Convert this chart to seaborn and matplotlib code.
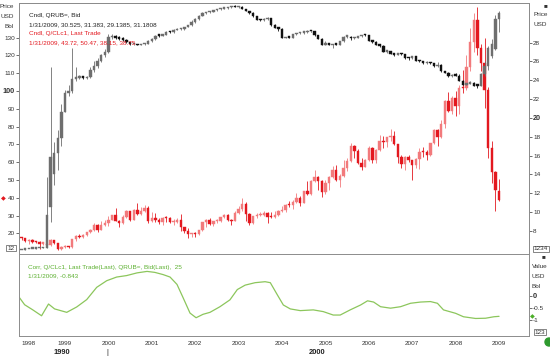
import numpy as np
import pandas as pd
import matplotlib
matplotlib.use('Agg')
import matplotlib.pyplot as plt
from matplotlib.patches import Ellipse
import seaborn as sns

# Monthly candles, Jan 1998 .. Jan 2009 (decimal years)
candle_dates = [1998 + i / 12 for i in range(133)]

# Q/CLc1, Last Trade (USD/Bbl)
oil_open = [
    17.64, 17.21, 15.44, 15.61, 15.39, 15.20, 14.18, 14.21, 13.34, 16.14, 14.42, 11.22,
    12.05, 12.75, 12.27, 16.76, 18.66, 17.90, 19.29, 20.53, 22.10, 24.51, 21.75, 24.59,
    25.60, 27.64, 30.43, 26.90, 25.74, 29.01, 32.50, 27.43, 33.12, 30.84, 32.70, 34.40,
    26.80, 28.66, 27.39, 26.29, 28.46, 28.37, 26.25, 26.35, 27.20, 23.43, 21.18, 19.44,
    19.84, 19.48, 21.74, 26.31, 27.29, 25.31, 26.86, 27.02, 28.98, 30.45, 27.22, 26.89,
    31.20, 33.51, 36.60, 31.04, 25.80, 29.56, 30.19, 30.54, 31.57, 29.20, 29.11, 30.41,
    32.52, 33.05, 36.16, 35.76, 37.38, 39.88, 37.05, 43.80, 42.12, 49.64, 51.76, 49.13,
    43.45, 48.20, 51.75, 55.40, 49.72, 51.97, 56.50, 60.57, 68.94, 66.24, 59.76, 57.32,
    61.04, 67.92, 61.41, 66.63, 71.88, 71.29, 73.93, 74.40, 70.26, 62.91, 58.73, 63.13,
    61.05, 58.14, 61.79, 65.87, 65.71, 64.01, 70.68, 78.21, 74.04, 81.66, 94.53, 88.71,
    95.98, 91.75, 101.84, 101.58, 113.46, 127.35, 140.00, 124.08, 115.46, 100.64, 67.81, 54.43,
    43.72]
oil_high = [
    18.00, 17.30, 16.90, 16.60, 15.90, 15.40, 14.90, 14.50, 16.80, 16.50, 14.70, 13.00,
    13.20, 13.00, 16.90, 18.90, 19.50, 19.40, 20.90, 22.30, 25.70, 25.30, 26.70, 27.20,
    30.00, 30.40, 34.40, 27.50, 30.10, 33.00, 32.70, 33.40, 37.20, 35.00, 36.10, 35.10,
    32.20, 31.60, 28.40, 28.90, 29.50, 29.20, 27.80, 28.70, 31.00, 23.60, 22.80, 20.40,
    21.00, 21.90, 26.40, 27.90, 28.40, 26.90, 28.00, 29.40, 31.00, 30.80, 28.00, 32.80,
    35.10, 39.99, 37.80, 31.50, 30.00, 31.60, 32.00, 32.40, 31.80, 31.70, 32.50, 33.10,
    35.30, 36.60, 38.40, 38.50, 42.45, 41.00, 43.90, 49.40, 50.10, 55.67, 52.20, 49.70,
    49.80, 52.30, 57.60, 58.28, 53.40, 60.95, 62.10, 70.85, 69.80, 67.10, 62.10, 61.90,
    69.20, 68.50, 67.20, 75.35, 74.70, 74.30, 78.40, 77.50, 70.30, 64.20, 63.20, 64.20,
    61.30, 62.30, 68.10, 68.40, 66.60, 70.70, 78.77, 78.70, 83.90, 94.74, 99.29, 97.00,
    100.09, 103.05, 111.80, 119.93, 135.09, 143.67, 147.27, 126.20, 130.00, 102.00, 72.10, 54.80,
    50.47]
oil_low = [
    16.10, 15.25, 13.91, 14.80, 14.60, 11.42, 13.20, 12.90, 13.10, 13.80, 10.70, 10.35,
    11.70, 11.60, 11.90, 15.90, 17.20, 17.40, 18.70, 19.90, 21.50, 21.00, 21.70, 24.00,
    24.00, 27.20, 26.80, 23.70, 25.30, 28.50, 26.80, 27.20, 30.50, 30.30, 32.20, 25.80,
    26.60, 26.50, 25.30, 24.90, 26.50, 25.60, 24.80, 25.70, 21.40, 20.10, 17.45, 17.80,
    17.90, 19.20, 21.30, 23.50, 24.80, 24.20, 25.80, 26.50, 28.70, 26.80, 24.80, 26.80,
    30.70, 32.80, 26.80, 24.80, 25.10, 28.80, 29.70, 30.00, 25.80, 28.60, 28.70, 29.90,
    31.90, 32.10, 34.80, 33.50, 37.20, 35.50, 36.90, 41.40, 41.60, 48.90, 44.30, 40.25,
    42.10, 44.20, 51.20, 49.30, 46.20, 51.40, 55.20, 60.10, 62.50, 59.20, 55.80, 57.20,
    60.80, 59.50, 59.40, 66.30, 68.20, 68.30, 72.10, 69.40, 59.50, 56.60, 55.40, 60.20,
    49.90, 56.70, 56.20, 62.70, 61.10, 63.70, 70.30, 69.10, 73.70, 79.00, 88.00, 87.00,
    86.11, 86.80, 98.60, 100.30, 111.30, 122.10, 120.40, 111.34, 90.51, 62.50, 48.50, 32.40,
    38.15]
oil_close = [
    17.21, 15.44, 15.61, 15.39, 15.20, 14.18, 14.21, 13.34, 16.14, 14.42, 11.22, 12.05,
    12.75, 12.27, 16.76, 18.66, 17.90, 19.29, 20.53, 22.10, 24.51, 21.75, 24.59, 25.60,
    27.64, 30.43, 26.90, 25.74, 29.01, 32.50, 27.43, 33.12, 30.84, 32.70, 34.40, 26.80,
    28.66, 27.39, 26.29, 28.46, 28.37, 26.25, 26.35, 27.20, 23.43, 21.18, 19.44, 19.84,
    19.48, 21.74, 26.31, 27.29, 25.31, 26.86, 27.02, 28.98, 30.45, 27.22, 26.89, 31.20,
    33.51, 36.60, 31.04, 25.80, 29.56, 30.19, 30.54, 31.57, 29.20, 29.11, 30.41, 32.52,
    33.05, 36.16, 35.76, 37.38, 39.88, 37.05, 43.80, 42.12, 49.64, 51.76, 49.13, 43.45,
    48.20, 51.75, 55.40, 49.72, 51.97, 56.50, 60.57, 68.94, 66.24, 59.76, 57.32, 61.04,
    67.92, 61.41, 66.63, 71.88, 71.29, 73.93, 74.40, 70.26, 62.91, 58.73, 63.13, 61.05,
    58.14, 61.79, 65.87, 65.71, 64.01, 70.68, 78.21, 74.04, 81.66, 94.53, 88.71, 95.98,
    91.75, 101.84, 101.58, 113.46, 127.35, 140.00, 124.08, 115.46, 100.64, 67.81, 54.43, 44.60,
    38.75]

# QRUB=, Bid (RUB per USD)
rub_open = [
    5.96, 6.03, 6.07, 6.11, 6.13, 6.16, 6.20, 6.24, 10.50, 14.00, 16.30, 17.90,
    20.65, 22.60, 22.86, 24.18, 24.22, 24.44, 24.22, 24.30, 25.09, 25.55, 26.05, 26.67,
    27.00, 28.55, 28.66, 28.46, 28.40, 28.30, 28.07, 27.80, 27.80, 27.75, 27.85, 27.85,
    28.16, 28.37, 28.73, 28.72, 28.82, 29.10, 29.07, 29.31, 29.39, 29.39, 29.65, 29.84,
    30.14, 30.48, 30.82, 31.11, 31.20, 31.29, 31.45, 31.52, 31.60, 31.64, 31.75, 31.86,
    31.78, 31.82, 31.59, 31.39, 31.13, 30.77, 30.44, 30.35, 30.48, 30.61, 29.90, 29.58,
    29.45, 28.49, 28.52, 28.51, 28.86, 28.97, 29.03, 29.08, 29.22, 29.21, 28.77, 28.41,
    27.75, 27.93, 27.73, 27.84, 27.79, 28.13, 28.63, 28.63, 28.47, 28.50, 28.68, 28.83,
    28.78, 28.16, 28.08, 27.76, 27.67, 27.02, 27.08, 26.80, 26.73, 26.78, 26.77, 26.39,
    26.33, 26.53, 26.03, 26.01, 25.78, 25.89, 25.82, 25.49, 25.66, 24.93, 24.80, 24.41,
    24.55, 24.48, 23.97, 23.52, 23.62, 23.71, 23.42, 23.40, 24.62, 25.50, 26.60, 27.30,
    30.525]
rub_high = [
    6.03, 6.08, 6.11, 6.13, 6.17, 6.20, 6.25, 13.70, 25.40, 17.40, 18.70, 21.50,
    23.00, 23.50, 27.40, 25.40, 24.60, 24.50, 24.50, 25.40, 26.00, 26.40, 26.80, 27.30,
    28.90, 28.90, 28.80, 28.70, 28.60, 28.40, 28.10, 27.90, 27.85, 27.90, 27.95, 28.30,
    28.50, 28.80, 28.80, 28.85, 29.20, 29.20, 29.40, 29.50, 29.50, 29.70, 29.90, 30.40,
    30.60, 30.90, 31.20, 31.25, 31.30, 31.50, 31.60, 31.65, 31.70, 31.80, 31.90, 31.95,
    31.85, 31.85, 31.60, 31.40, 31.20, 30.80, 30.50, 30.60, 30.70, 30.65, 29.95, 29.60,
    29.50, 28.60, 28.60, 28.90, 29.00, 29.10, 29.15, 29.30, 29.25, 29.25, 28.80, 28.50,
    28.20, 28.00, 27.90, 28.00, 28.20, 28.70, 28.75, 28.70, 28.60, 28.70, 28.85, 28.95,
    28.85, 28.25, 28.20, 27.80, 27.70, 27.20, 27.10, 26.85, 26.85, 26.90, 26.80, 26.50,
    26.60, 26.60, 26.10, 26.05, 26.00, 25.95, 25.85, 25.95, 25.70, 25.00, 24.85, 24.65,
    24.75, 24.65, 24.05, 23.75, 23.90, 23.80, 23.45, 24.80, 26.00, 27.60, 28.40, 30.90,
    31.383]
rub_low = [
    5.96, 6.03, 6.07, 6.10, 6.13, 6.16, 6.20, 6.20, 9.00, 12.90, 14.50, 17.00,
    20.60, 22.30, 22.70, 23.90, 24.10, 24.10, 24.10, 24.20, 24.90, 25.30, 25.90, 26.50,
    26.90, 28.40, 28.40, 28.30, 28.20, 28.00, 27.70, 27.70, 27.70, 27.70, 27.75, 27.80,
    28.10, 28.30, 28.60, 28.65, 28.80, 29.00, 29.00, 29.30, 29.30, 29.35, 29.60, 29.80,
    30.10, 30.40, 30.80, 31.05, 31.15, 31.25, 31.40, 31.45, 31.55, 31.60, 31.70, 31.75,
    31.70, 31.55, 31.30, 31.05, 30.70, 30.35, 30.25, 30.30, 30.40, 29.80, 29.50, 29.20,
    28.45, 28.45, 28.45, 28.50, 28.80, 28.95, 28.95, 29.05, 29.15, 28.70, 28.35, 27.70,
    27.70, 27.70, 27.40, 27.70, 27.75, 28.10, 28.50, 28.30, 28.35, 28.45, 28.60, 28.70,
    28.15, 28.00, 27.70, 27.55, 26.95, 26.85, 26.75, 26.60, 26.65, 26.70, 26.30, 26.20,
    26.30, 26.00, 25.95, 25.75, 25.75, 25.75, 25.45, 25.45, 24.90, 24.75, 24.35, 24.35,
    24.45, 23.95, 23.45, 23.45, 23.55, 23.40, 23.15, 23.35, 24.50, 25.10, 26.40, 27.20,
    29.1385]
rub_close = [
    6.03, 6.07, 6.11, 6.13, 6.16, 6.20, 6.24, 9.70, 15.90, 16.30, 17.90, 20.65,
    22.60, 22.86, 24.18, 24.22, 24.44, 24.22, 24.30, 25.09, 25.55, 26.05, 26.67, 27.00,
    28.55, 28.66, 28.46, 28.40, 28.30, 28.07, 27.80, 27.80, 27.75, 27.85, 27.85, 28.16,
    28.37, 28.73, 28.72, 28.82, 29.10, 29.07, 29.31, 29.39, 29.39, 29.65, 29.84, 30.14,
    30.48, 30.82, 31.11, 31.20, 31.29, 31.45, 31.52, 31.60, 31.64, 31.75, 31.86, 31.78,
    31.82, 31.59, 31.39, 31.13, 30.77, 30.44, 30.35, 30.48, 30.61, 29.90, 29.58, 29.45,
    28.49, 28.52, 28.51, 28.86, 28.97, 29.03, 29.08, 29.22, 29.21, 28.77, 28.41, 27.75,
    27.93, 27.73, 27.84, 27.79, 28.13, 28.63, 28.63, 28.47, 28.50, 28.68, 28.83, 28.78,
    28.16, 28.08, 27.76, 27.67, 27.02, 27.08, 26.80, 26.73, 26.78, 26.77, 26.39, 26.33,
    26.53, 26.03, 26.01, 25.78, 25.89, 25.82, 25.49, 25.66, 24.93, 24.80, 24.41, 24.55,
    24.48, 23.97, 23.52, 23.62, 23.71, 23.42, 23.40, 24.62, 25.50, 27.40, 27.90, 30.50,
    31.1808]

# Corr, Q/CLc1 vs QRUB=, 25 period
corr_dates = [
    1997.93, 1998.07, 1998.25, 1998.46, 1998.62, 1998.76, 1999.04, 1999.27, 1999.50,
    1999.73, 1999.96, 2000.19, 2000.42, 2000.66, 2000.89, 2001.07, 2001.26, 2001.42,
    2001.58, 2001.72, 2001.88, 2002.02, 2002.18, 2002.34, 2002.57, 2002.80, 2002.97,
    2003.15, 2003.38, 2003.61, 2003.73, 2003.89, 2004.03, 2004.19, 2004.42, 2004.72,
    2004.95, 2005.18, 2005.34, 2005.57, 2005.81, 2005.97, 2006.11, 2006.27, 2006.50,
    2006.73, 2006.96, 2007.19, 2007.42, 2007.58, 2007.72, 2008.00, 2008.18, 2008.46,
    2008.69, 2008.88, 2009.00]
corr_values = [
    -0.03, -0.37, -0.57, -0.82, -0.34, -0.54, -0.68, -0.46, -0.16,
    0.34, 0.61, 0.76, 0.82, 0.93, 0.99, 0.95, 0.86, 0.76,
    0.46, -0.08, -0.71, -0.90, -0.76, -0.68, -0.45, -0.17, 0.25,
    0.43, 0.53, 0.57, 0.53, 0.04, -0.38, -0.54, -0.61, -0.58,
    -0.65, -0.79, -0.79, -0.58, -0.38, -0.21, -0.26, -0.45, -0.51,
    -0.45, -0.31, -0.26, -0.24, -0.31, -0.58, -0.72, -0.86, -0.93,
    -0.92, -0.86, -0.843]

oil_ticks = [20, 30, 40, 50, 60, 70, 80, 90, 100, 110, 120, 130]
rub_ticks = [8, 10, 12, 14, 16, 18, 20, 22, 24, 26, 28]
corr_ticks = [0, -0.5, -1]
corr_tick_labels = ['0', '-0.5', '-1']
year_ticks = list(range(1998, 2010))

W, H = 550, 357


def px(x, y):
    # pixel position in the picture -> figure fraction
    return x / W, 1 - y / H


def draw_candles(ax, o, h, l, c, up_color, down_color, min_body):
    df = pd.DataFrame({'date': candle_dates, 'open': o, 'high': h, 'low': l, 'close': c})
    df['up'] = df['close'] >= df['open']
    df['colour'] = np.where(df['up'], up_color, down_color)
    bottom = df[['open', 'close']].min(axis=1)
    body = (df['close'] - df['open']).abs().clip(lower=min_body)
    ax.vlines(df['date'], df['low'], df['high'], colors=df['colour'], linewidth=0.6, zorder=2)
    ax.bar(df['date'], body, bottom=bottom, width=0.055, color=df['colour'],
           edgecolor=df['colour'], linewidth=0.3, zorder=3)


sns.set_style('white')
plt.rcParams['font.family'] = ['Liberation Sans', 'DejaVu Sans']
plt.rcParams['font.size'] = 4.6

fig = plt.figure(figsize=(W / 100, H / 100), dpi=100)
ax_oil = fig.add_axes([19 / W, 1 - 254 / H, 510 / W, 251 / H])
ax_rub = ax_oil.twinx()
ax_corr = fig.add_axes([19 / W, 1 - 336 / H, 510 / W, 82 / H])

x_lim = (1997.94, 2009.69)
spine_col = '#8c8c8c'
label_col = '#333333'

# top panel: oil on the left scale, rouble on the right scale
draw_candles(ax_oil, oil_open, oil_high, oil_low, oil_close, '#f27a7c', '#e3181f', 0.7)
draw_candles(ax_rub, rub_open, rub_high, rub_low, rub_close, '#6e6e6e', '#111111', 0.15)

ax_oil.set_xlim(*x_lim)
ax_oil.set_ylim(8.37, 149.4)
ax_rub.set_ylim(5.56, 32.2)
ax_oil.set_xticks([])

ax_oil.set_yticks(oil_ticks)
ax_oil.set_yticklabels([str(t) for t in oil_ticks])
ax_rub.set_yticks(rub_ticks)
ax_rub.set_yticklabels([str(t) for t in rub_ticks])
for ax in (ax_oil, ax_rub):
    ax.tick_params(axis='y', direction='out', length=2.2, width=0.5, pad=0.8,
                   labelsize=4.6, colors=label_col)
for lab in ax_oil.get_yticklabels():
    if lab.get_text() == '100':
        lab.set_fontweight('bold')
        lab.set_fontsize(5.2)
for lab in ax_rub.get_yticklabels():
    if lab.get_text() == '20':
        lab.set_fontweight('bold')
        lab.set_fontsize(5.2)

# bottom panel: correlation line
sns.lineplot(x=corr_dates, y=corr_values, ax=ax_corr, color='#8cc65c', linewidth=0.9)
ax_corr.set_xlim(*x_lim)
ax_corr.set_ylim(-1.645, 1.70)
ax_corr.yaxis.tick_right()
ax_corr.set_yticks(corr_ticks)
ax_corr.set_yticklabels(corr_tick_labels)
ax_corr.tick_params(axis='y', direction='out', length=2.2, width=0.5, pad=0.8,
                    labelsize=4.6, colors=label_col)
for lab in ax_corr.get_yticklabels():
    if lab.get_text() == '0':
        lab.set_fontweight('bold')
        lab.set_fontsize(5.4)
ax_corr.set_xticks(year_ticks)
ax_corr.set_xticklabels([str(y) for y in year_ticks])
ax_corr.tick_params(axis='x', direction='out', length=2.5, width=0.5, pad=1.0,
                    labelsize=4.6, colors=label_col)
# first year label sits to the right of its tick, as in the original
ax_corr.get_xticklabels()[0].set_horizontalalignment('left')

for ax in (ax_oil, ax_rub, ax_corr):
    for s in ax.spines.values():
        s.set_color(spine_col)
        s.set_linewidth(0.7)

# legends of the two panels
fig.text(*px(29, 16), 'Cndl, QRUB=, Bid', color='#222222', va='center', fontsize=4.6)
fig.text(*px(29, 25), '1/31/2009, 30.525, 31.383, 29.1385, 31.1808', color='#222222',
         va='center', fontsize=4.6)
fig.text(*px(29, 34), 'Cndl, Q/CLc1, Last Trade', color='#e3181f', va='center', fontsize=4.6)
fig.text(*px(29, 43), '1/31/2009, 43.72, 50.47, 38.15, 38.75', color='#e3181f',
         va='center', fontsize=4.6)
fig.text(*px(28, 267), 'Corr, Q/CLc1, Last Trade(Last), QRUB=, Bid(Last),  25',
         color='#5cb030', va='center', fontsize=4.6)
fig.text(*px(28, 276), '1/31/2009, -0.843', color='#5cb030', va='center', fontsize=4.6)

# unit labels
for i, t in enumerate(['Price', 'USD', 'Bbl']):
    fig.text(*px(14, 7 + 9.5 * i), t, ha='right', va='center', color=label_col, fontsize=4.6)
for i, t in enumerate(['Price', 'USD']):
    fig.text(*px(533, 15 + 9.5 * i), t, ha='left', va='center', color=label_col, fontsize=4.6)
for i, t in enumerate(['Value', 'USD', 'Bbl']):
    fig.text(*px(532, 266 + 10 * i), t, ha='left', va='center', color=label_col, fontsize=4.6)

# scale boxes
box = dict(boxstyle='square,pad=0.15', fc='white', ec='#555555', lw=0.5)
fig.text(*px(11, 248), '12', ha='center', va='center', fontsize=4.6, color=label_col, bbox=box)
fig.text(*px(541, 249), '1234', ha='center', va='center', fontsize=4.6, color=label_col, bbox=box)
fig.text(*px(540, 332), '123', ha='center', va='center', fontsize=4.6, color=label_col, bbox=box)

# decade labels under the year axis
fig.text(*px(62, 352), '1990', ha='center', va='center', fontsize=5.4, fontweight='bold', color='#222222')
fig.text(*px(317, 352), '2000', ha='center', va='center', fontsize=5.4, fontweight='bold', color='#222222')
fig.text(*px(107, 352), '|', ha='center', va='center', fontsize=5.4, color='#222222')

# last value markers and small window icons
fig.text(*px(3, 199), '\u25c6', ha='center', va='center', fontsize=4.5, color='#e3181f')
fig.text(*px(532, 317), '\u25c6', ha='center', va='center', fontsize=4.5, color='#4caf28')
fig.text(*px(545, 6), '\u25a0', ha='center', va='center', fontsize=4.5, color='#333333')
fig.text(*px(544, 257), '\u25a0', ha='center', va='center', fontsize=4.5, color='#333333')
fig.add_artist(Ellipse(px(549, 342), 8 / W, 8 / H, transform=fig.transFigure,
                       color='#2e9a2e', clip_on=False))

fig.savefig('out.png', dpi=100)
